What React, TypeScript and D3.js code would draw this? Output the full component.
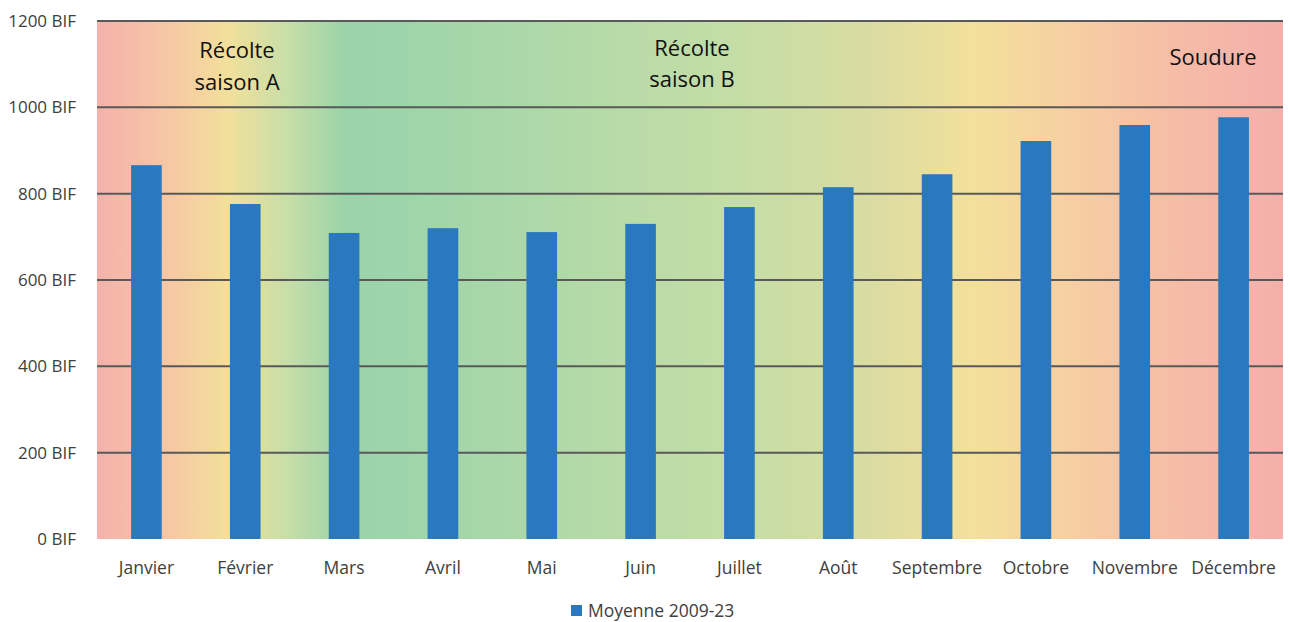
import { useRef, useEffect } from "react";
import * as d3 from "d3";

const months = [
  "Janvier", "Février", "Mars", "Avril", "Mai", "Juin",
  "Juillet", "Août", "Septembre", "Octobre", "Novembre", "Décembre",
];
const moyenne = [866, 776, 709, 720, 711, 730, 769, 815, 845, 922, 959, 977];
const yTicks = [0, 200, 400, 600, 800, 1000, 1200];
const seriesName = "Moyenne 2009-23";

// background season gradient (offset, colour)
const bgStops: [number, string][] = [
  [0, "#f4b2ab"],
  [0.05, "#f6c3a6"],
  [0.09, "#f5d59e"],
  [0.11, "#f2e09b"],
  [0.16, "#c8dea8"],
  [0.21, "#9ad3aa"],
  [0.3, "#a3d6aa"],
  [0.4, "#b2d9a8"],
  [0.55, "#c6dea6"],
  [0.65, "#d9dca2"],
  [0.74, "#f3e09b"],
  [0.82, "#f6cfa2"],
  [0.9, "#f6bea6"],
  [1, "#f4afab"],
];

const W = 1290;
const H = 622;
const margin = { left: 97, right: 7, top: 21, bottom: 83 };
const FONT = "'Open Sans', 'Noto Sans', sans-serif";

export default function App() {
  const ref = useRef<SVGSVGElement>(null);

  useEffect(() => {
    if (!ref.current) return;
    const svg = d3.select(ref.current);
    svg.selectAll("*").remove();

    const x0 = margin.left;
    const x1 = W - margin.right;
    const y0 = H - margin.bottom;
    const y1 = margin.top;

    const x = d3.scaleBand().domain(months).range([x0, x1]).paddingInner(0.69).paddingOuter(0.345);
    const y = d3.scaleLinear().domain([0, 1200]).range([y0, y1]);

    const defs = svg.append("defs");
    const grad = defs.append("linearGradient").attr("id", "bg").attr("x1", "0").attr("x2", "1").attr("y1", "0").attr("y2", "0");
    bgStops.forEach(([o, c]) => grad.append("stop").attr("offset", o).attr("stop-color", c));

    svg.append("rect")
      .attr("x", x0).attr("y", y1).attr("width", x1 - x0).attr("height", y0 - y1)
      .attr("fill", "url(#bg)");

    // gridlines
    svg.append("g").selectAll("line").data(yTicks.filter((t) => t > 0)).join("line")
      .attr("x1", x0).attr("x2", x1)
      .attr("y1", (d) => y(d)).attr("y2", (d) => y(d))
      .attr("stroke", "#595959").attr("stroke-width", 2);

    // y labels
    svg.append("g").selectAll("text").data(yTicks).join("text")
      .attr("x", 76).attr("y", (d) => y(d)).attr("dy", "0.35em")
      .attr("text-anchor", "end")
      .attr("font-family", FONT).attr("font-size", 17).attr("fill", "#404040")
      .text((d) => `${d} BIF`);

    // bars
    svg.append("g").selectAll("rect").data(moyenne).join("rect")
      .attr("x", (_, i) => x(months[i])!)
      .attr("width", x.bandwidth())
      .attr("y", (d) => y(d))
      .attr("height", (d) => y(0) - y(d))
      .attr("fill", "#2a78be");

    // x labels
    svg.append("g").selectAll("text").data(months).join("text")
      .attr("x", (d) => x(d)! + x.bandwidth() / 2)
      .attr("y", 574)
      .attr("text-anchor", "middle")
      .attr("font-family", FONT).attr("font-size", 17.5).attr("fill", "#404040")
      .text((d) => d);

    // annotations
    const ann = svg.append("g").attr("font-family", FONT).attr("font-size", 22).attr("fill", "#111").attr("text-anchor", "middle");
    ann.append("text").attr("x", 237).attr("y", 58).text("Récolte");
    ann.append("text").attr("x", 237).attr("y", 90).text("saison A");
    ann.append("text").attr("x", 692).attr("y", 56).text("Récolte");
    ann.append("text").attr("x", 692).attr("y", 87).text("saison B");
    ann.append("text").attr("x", 1213).attr("y", 65).text("Soudure");

    // legend
    const lg = svg.append("g");
    lg.append("rect").attr("x", 571).attr("y", 605).attr("width", 11).attr("height", 11).attr("fill", "#2a78be");
    lg.append("text").attr("x", 588).attr("y", 617)
      .attr("font-family", FONT).attr("font-size", 17.5).attr("fill", "#404040")
      .text(seriesName);
  }, []);

  return <svg ref={ref} width={W} height={H} style={{ display: "block", position: "absolute", left: 0, top: 0 }} />;
}
